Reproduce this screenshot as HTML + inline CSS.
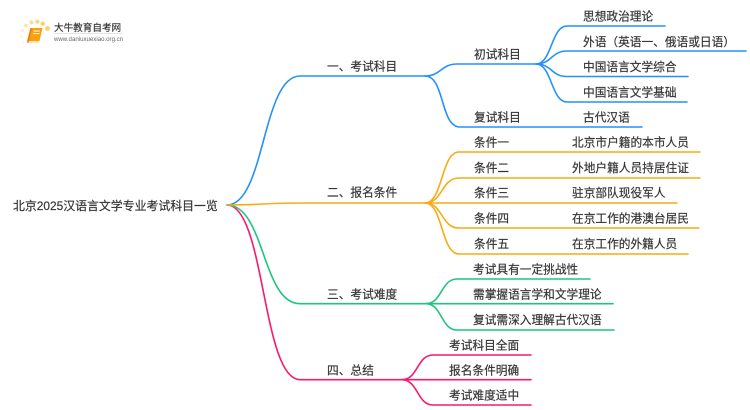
<!DOCTYPE html>
<html>
<head>
<meta charset="utf-8">
<style>
html,body{margin:0;padding:0;background:#fff;}
svg{display:block;}
text{font-family:"Liberation Sans","Noto Sans CJK SC",sans-serif;font-size:11.7px;fill:#333;stroke:#333;stroke-width:.18px;}
path{fill:none;stroke-width:1.6;stroke-linecap:round;}
.b path,path.b{stroke:#2490fb;}
.o path,path.o{stroke:#f8ab14;}
.g path,path.g{stroke:#1fc57f;}
.p path,path.p{stroke:#f8186f;}
</style>
</head>
<body>
<svg width="750" height="410" viewBox="0 0 750 410" xmlns="http://www.w3.org/2000/svg">
<rect width="750" height="410" fill="#fff"/>
<!-- logo -->
<g>
<circle cx="47.5" cy="28.5" r="2.4" fill="#fcd06a"/>
<circle cx="42.7" cy="23.7" r="2.2" fill="#fcd06a"/>
<circle cx="37.5" cy="21.7" r="2.1" fill="#fcd57a"/>
<circle cx="31.5" cy="22.5" r="1.9" fill="#fdda88"/>
<circle cx="26" cy="25.5" r="1.7" fill="#fde09a"/>
<circle cx="22.5" cy="30.5" r="1.4" fill="#feeabb"/>
<circle cx="21.5" cy="36.5" r="1.2" fill="#feefcc"/>
<circle cx="23.5" cy="42.5" r="1" fill="#fef2d6"/>
<polygon points="30.5,28 42.5,28 39.5,41 27,41" fill="#f9a010"/>
<polygon points="27,41 39.5,41 39,42.7 27.5,42.7" fill="#fde0b0"/>
<polygon points="30.5,28 32,28 28.5,42.7 27,42.7" fill="#ec7a0e"/>
<rect x="33.5" y="30.5" width="6.5" height="1.1" fill="#fff0c8"/>
<rect x="33" y="33" width="6.5" height="1.1" fill="#fff0c8"/>
<text x="54" y="31" style="font-size:9.6px;fill:#333;stroke:#333;stroke-width:.15px">大牛教育自考网</text>
<rect x="54" y="33" width="68" height="0.8" fill="#ddd"/>
<text x="54" y="41" style="font-size:6.1px;fill:#666;stroke:none">www.daniuxuexiao.org.cn</text>
</g>

<!-- main branches -->
<path class="p" d="M227,205 C265,205 262,379.7 300,379.7 L403,379.7"/>
<path class="g" d="M227,205 C265,205 262,303.7 300,303.7 L428,303.7"/>
<path class="b" d="M227,205 C265,205 262,76 300,76 L425,76"/>
<path class="o" d="M227,205 C265,205 262,203 300,203 L425,203"/>

<!-- blue -->
<g class="b">
<path d="M425,76 C441,76 441,64 457,64 L536,64"/>
<path d="M425,76 C445,76 440,127 460,127 L642,127"/>
<path d="M536,64 C552,64 551,26 567,26 L665,26"/>
<path d="M536,64 C552,64 551,51 567,51 L746,51"/>
<path d="M536,64 C552,64 551,76.5 567,76.5 L688,76.5"/>
<path d="M536,64 C552,64 551,102 567,102 L687,102"/>
</g>
<!-- orange -->
<g class="o">
<path d="M425,203 C443,203 441,152 459,152 L700,152"/>
<path d="M425,203 C443,203 441,178 459,178 L700,178"/>
<path d="M425,203 L677,203"/>
<path d="M425,203 C443,203 441,228 459,228 L699,228"/>
<path d="M425,203 C443,203 441,254 459,254 L688,254"/>
</g>
<!-- green -->
<g class="g">
<path d="M426,303.7 C442,303.7 441,279 457,279 L590,279"/>
<path d="M426,303.7 L613,303.7"/>
<path d="M426,303.7 C442,303.7 441,330 457,330 L614,330"/>
</g>
<!-- pink -->
<g class="p">
<path d="M402,379.7 C418,379.7 417,355 433,355 L531,355"/>
<path d="M402,379.7 L531,379.7"/>
<path d="M402,379.7 C418,379.7 417,405 433,405 L531,405"/>
</g>

<!-- labels -->
<text x="13" y="210" style="font-size:11.9px">北京2025汉语言文学专业考试科目一览</text>
<text x="327" y="70.5">一、考试科目</text>
<text x="327" y="196.5">二、报名条件</text>
<text x="327" y="298.5">三、考试难度</text>
<text x="327" y="374.5">四、总结</text>

<text x="474" y="58.5">初试科目</text>
<text x="474" y="121.5">复试科目</text>

<text x="583" y="20.5">思想政治理论</text>
<text x="583" y="46">外语（英语一、俄语或日语）</text>
<text x="583" y="71">中国语言文学综合</text>
<text x="583" y="96.5">中国语言文学基础</text>
<text x="583" y="121.5">古代汉语</text>

<text x="474" y="146.5">条件一</text>
<text x="474" y="172">条件二</text>
<text x="474" y="197">条件三</text>
<text x="474" y="222.5">条件四</text>
<text x="474" y="248">条件五</text>

<text x="572" y="146.5">北京市户籍的本市人员</text>
<text x="572" y="172">外地户籍人员持居住证</text>
<text x="572" y="197">驻京部队现役军人</text>
<text x="572" y="222.5">在京工作的港澳台居民</text>
<text x="572" y="248">在京工作的外籍人员</text>

<text x="473" y="273.5">考试具有一定挑战性</text>
<text x="473" y="298.5">需掌握语言学和文学理论</text>
<text x="473" y="324">复试需深入理解古代汉语</text>

<text x="449" y="349.5">考试科目全面</text>
<text x="449" y="374.5">报名条件明确</text>
<text x="449" y="399.5">考试难度适中</text>
</svg>
</body>
</html>
